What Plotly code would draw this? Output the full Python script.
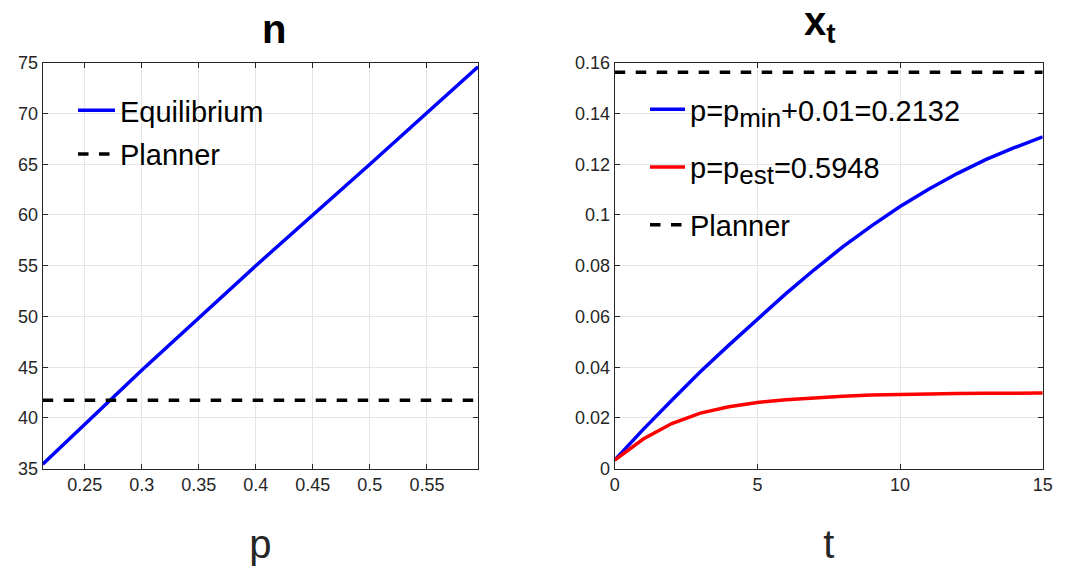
import plotly.graph_objects as go

# Left panel data
p_vals = [0.2132, 0.30, 0.40, 0.50, 0.5948]
n_equilibrium = [35.45, 44.7, 55.0, 65.0, 74.6]
n_planner = 41.74

# Right panel data
t_vals = list(range(16))
x_pmin = [0.0034, 0.0155, 0.0270, 0.0382, 0.0487, 0.0590, 0.0690, 0.0785,
          0.0875, 0.0957, 0.1033, 0.1101, 0.1163, 0.1218, 0.1265, 0.1308]
x_pest = [0.0034, 0.0117, 0.0178, 0.0219, 0.0244, 0.0261, 0.0272, 0.0280,
          0.0286, 0.0290, 0.0293, 0.0295, 0.0296, 0.0297, 0.0298, 0.0298]
x_planner = 0.1562

left_xticks = [0.25, 0.3, 0.35, 0.4, 0.45, 0.5, 0.55]
left_yticks = [35, 40, 45, 50, 55, 60, 65, 70, 75]
right_xticks = [0, 5, 10, 15]
right_yticks = [0, 0.02, 0.04, 0.06, 0.08, 0.1, 0.12, 0.14, 0.16]
right_yticktext = ["0", "0.02", "0.04", "0.06", "0.08", "0.1", "0.12", "0.14", "0.16"]

FONT = "Liberation Sans, Arial, Helvetica, sans-serif"
AX = "#262626"
SUB = '<sub><span style="font-size:26px">{}</span></sub>'

fig = go.Figure()

fig.add_trace(go.Scatter(x=p_vals, y=n_equilibrium, mode="lines",
                         line=dict(color="#0000ff", width=3.5),
                         name="Equilibrium", legend="legend", legendgroup="a",
                         xaxis="x", yaxis="y"))
fig.add_trace(go.Scatter(x=[p_vals[0], p_vals[-1]], y=[n_planner, n_planner], mode="lines",
                         line=dict(color="black", width=3.5, dash="dash"),
                         name="Planner", legend="legend", legendgroup="b",
                         xaxis="x", yaxis="y"))

fig.add_trace(go.Scatter(x=t_vals, y=x_pmin, mode="lines",
                         line=dict(color="#0000ff", width=3.5),
                         name="p=p" + SUB.format("min") + "+0.01=0.2132",
                         legend="legend2", legendgroup="c",
                         xaxis="x2", yaxis="y2"))
fig.add_trace(go.Scatter(x=t_vals, y=x_pest, mode="lines",
                         line=dict(color="#ff0000", width=3.5),
                         name="p=p" + SUB.format("est") + "=0.5948",
                         legend="legend2", legendgroup="d",
                         xaxis="x2", yaxis="y2"))
fig.add_trace(go.Scatter(x=[t_vals[0], t_vals[-1]], y=[x_planner, x_planner], mode="lines",
                         line=dict(color="black", width=3.5, dash="dash"),
                         name="Planner", legend="legend2", legendgroup="e",
                         xaxis="x2", yaxis="y2"))

axis_common = dict(showline=True, linecolor=AX, linewidth=1, mirror="allticks",
                   ticks="inside", ticklen=5, tickcolor=AX, tickwidth=1,
                   showgrid=True, gridcolor="#e5e5e5", gridwidth=1, zeroline=False,
                   automargin=False,
                   tickfont=dict(family=FONT, size=18, color=AX))

yd = [0.1777, 0.890]
title_font = dict(family=FONT, size=40, color=AX)
fig.update_layout(
    width=1073, height=570,
    margin=dict(l=0, r=0, t=0, b=0),
    paper_bgcolor="white", plot_bgcolor="white",
    font=dict(family=FONT, color=AX),
    xaxis=dict(domain=[0.0398, 0.4455], range=[0.2132, 0.5948],
               tickvals=left_xticks, ticktext=[str(v) for v in left_xticks],
               title=dict(text="p", font=title_font, standoff=35),
               anchor="y", **axis_common),
    yaxis=dict(domain=yd, range=[35, 75], tickvals=left_yticks,
               ticktext=[str(v) for v in left_yticks], anchor="x", **axis_common),
    xaxis2=dict(domain=[0.5729, 0.9718], range=[0, 15], tickvals=right_xticks,
                ticktext=[str(v) for v in right_xticks],
                title=dict(text="t", font=title_font, standoff=35),
                anchor="y2", **axis_common),
    yaxis2=dict(domain=yd, range=[0, 0.16], tickvals=right_yticks,
                ticktext=right_yticktext, anchor="x2", **axis_common),
    legend=dict(x=73 / 1073, y=1 - 85 / 570, xanchor="left", yanchor="top",
                bgcolor="rgba(255,255,255,0)", tracegroupgap=3, itemwidth=37,
                font=dict(family=FONT, size=29, color="black")),
    legend2=dict(x=645 / 1073, y=1 - 84 / 570, xanchor="left", yanchor="top",
                 bgcolor="rgba(255,255,255,0)", tracegroupgap=17, itemwidth=35,
                 font=dict(family=FONT, size=29, color="black")),
)
fig.add_annotation(text="<b>n</b>", x=260 / 1073, y=1 - 29 / 570, yanchor="middle",
                   xref="paper", yref="paper", showarrow=False,
                   font=dict(family=FONT, size=40, color="black"))
fig.add_annotation(text="<b>x<sub>t</sub></b>", x=838 / 1073, y=1 - 24 / 570, yanchor="middle",
                   xref="paper", yref="paper", showarrow=False,
                   font=dict(family=FONT, size=40, color="black"))

fig.write_html("out.html")
